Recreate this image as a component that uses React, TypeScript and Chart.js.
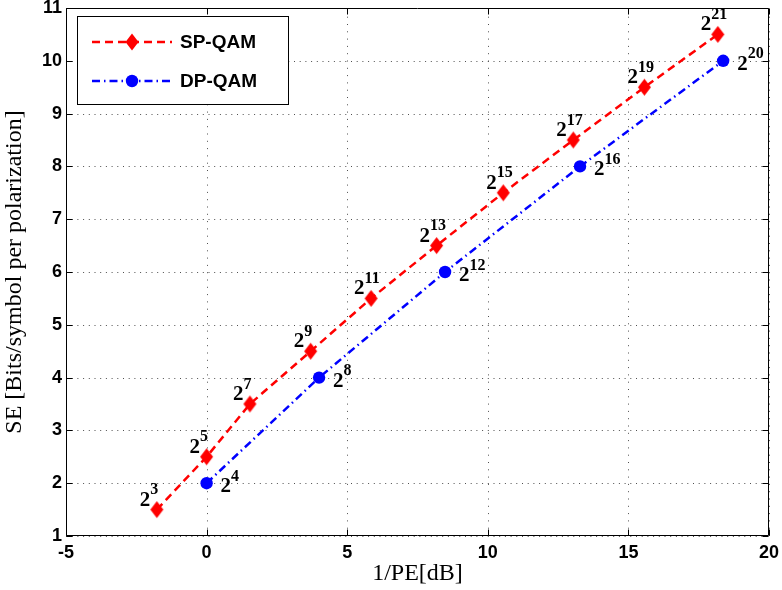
import React, { useEffect, useRef } from "react";
import { Chart, registerables } from "chart.js";

Chart.register(...registerables);

// ---- data ----
const spX = [-1.77, 0.0, 1.54, 3.7, 5.85, 8.18, 10.55, 13.04, 15.57, 18.18];
const spY = [1.5, 2.5, 3.5, 4.5, 5.5, 6.5, 7.5, 8.5, 9.5, 10.5];
const spExp = ["3", "5", "7", "9", "11", "13", "15", "17", "19", "21"];

const dpX = [0.0, 4.0, 8.48, 13.28, 18.37];
const dpY = [2, 4, 6, 8, 10];
const dpExp = ["4", "8", "12", "16", "20"];

const seriesNames = ["SP-QAM", "DP-QAM"];
const xTitle = "1/PE[dB]";
const yTitle = "SE [Bits/symbol per polarization]";
const xMin = -5, xMax = 20, xStep = 5;
const yMin = 1, yMax = 11, yStep = 1;

const RED = "#ff0000";
const BLUE = "#0000ff";
const SP_DASH = [8, 5];
const DP_DASH = [8, 4, 1.5, 4];
const SANS = '"Liberation Sans", Arial, Helvetica, sans-serif';
const SERIF = '"Liberation Serif", "Times New Roman", serif';

function makeDiamond(color: string, hw: number, hh: number) {
  const c = document.createElement("canvas");
  c.width = Math.ceil(hw * 2) + 2;
  c.height = Math.ceil(hh * 2) + 2;
  const g = c.getContext("2d")!;
  const cx = c.width / 2, cy = c.height / 2;
  g.fillStyle = color;
  g.beginPath();
  g.moveTo(cx, cy - hh);
  g.lineTo(cx + hw, cy);
  g.lineTo(cx, cy + hh);
  g.lineTo(cx - hw, cy);
  g.closePath();
  g.fill();
  return c;
}

const gridPlugin = {
  id: "dotGrid",
  beforeDatasetsDraw(chart: any) {
    const ctx = chart.ctx;
    const { left, right, top, bottom } = chart.chartArea;
    const xs = chart.scales.x;
    const ys = chart.scales.y;
    ctx.save();
    ctx.strokeStyle = "rgba(60,60,60,0.9)";
    ctx.lineWidth = 1;
    ctx.setLineDash([1, 6.3]);
    ctx.beginPath();
    xs.ticks.forEach((t: any) => {
      const p = Math.round(xs.getPixelForValue(t.value)) + 0.5;
      ctx.moveTo(p, bottom);
      ctx.lineTo(p, top);
    });
    ctx.stroke();
    ctx.setLineDash([1, 4.7]);
    ctx.beginPath();
    ys.ticks.forEach((t: any) => {
      const p = Math.round(ys.getPixelForValue(t.value)) + 0.5;
      ctx.moveTo(left, p);
      ctx.lineTo(right, p);
    });
    ctx.stroke();
    ctx.restore();
  },
};

const labelPlugin = {
  id: "pow2labels",
  afterDatasetsDraw(chart: any) {
    const ctx = chart.ctx;
    const sets = [
      { exp: spExp, dx: -17, dy: -4 },
      { exp: dpExp, dx: 14, dy: 9 },
    ];
    sets.forEach((s, di) => {
      const meta = chart.getDatasetMeta(di);
      meta.data.forEach((pt: any, i: number) => {
        ctx.save();
        ctx.fillStyle = "#000";
        ctx.textBaseline = "alphabetic";
        ctx.textAlign = "left";
        ctx.font = `bold 21px ${SERIF}`;
        const bx = pt.x + s.dx;
        const by = pt.y + s.dy;
        ctx.fillText("2", bx, by);
        const w = ctx.measureText("2").width;
        ctx.font = `bold 16px ${SERIF}`;
        ctx.fillText(s.exp[i], bx + w, by - 11.5);
        ctx.restore();
      });
    });
  },
};

const framePlugin = {
  id: "frame",
  afterDatasetsDraw(chart: any) {
    const ctx = chart.ctx;
    const { left, right, top, bottom } = chart.chartArea;
    const L = Math.round(left) + 0.5;
    const R = Math.round(right) - 0.5;
    const T = Math.round(top) + 0.5;
    const B = Math.round(bottom) - 0.5;
    ctx.save();
    ctx.strokeStyle = "#000";
    ctx.lineWidth = 1;
    ctx.setLineDash([]);
    ctx.beginPath();
    ctx.rect(L, T, R - L, B - T);
    ctx.stroke();
    const tl = 6;
    const xs = chart.scales.x;
    const ys = chart.scales.y;
    ctx.beginPath();
    xs.ticks.forEach((t: any) => {
      const p = Math.round(xs.getPixelForValue(t.value)) + 0.5;
      ctx.moveTo(p, B);
      ctx.lineTo(p, B - tl);
      ctx.moveTo(p, T);
      ctx.lineTo(p, T + tl);
    });
    ys.ticks.forEach((t: any) => {
      const p = Math.round(ys.getPixelForValue(t.value)) + 0.5;
      ctx.moveTo(L, p);
      ctx.lineTo(L + tl, p);
      ctx.moveTo(R, p);
      ctx.lineTo(R - tl, p);
    });
    ctx.stroke();
    ctx.restore();
  },
};

const legendPlugin = {
  id: "boxLegend",
  afterDraw(chart: any) {
    const ctx = chart.ctx;
    const bx = 77, by = 16, bw = 211, bh = 88;
    ctx.save();
    ctx.fillStyle = "#fff";
    ctx.fillRect(bx, by, bw, bh);
    ctx.strokeStyle = "#000";
    ctx.lineWidth = 1;
    ctx.setLineDash([]);
    ctx.strokeRect(bx + 0.5, by + 0.5, bw, bh);

    const rows = [
      { y: 42, color: RED, dash: SP_DASH, marker: "diamond", text: seriesNames[0] },
      { y: 81, color: BLUE, dash: DP_DASH, marker: "circle", text: seriesNames[1] },
    ];
    rows.forEach((r) => {
      ctx.strokeStyle = r.color;
      ctx.lineWidth = 2.5;
      ctx.setLineDash(r.dash);
      ctx.beginPath();
      ctx.moveTo(92, r.y);
      ctx.lineTo(172, r.y);
      ctx.stroke();
      ctx.setLineDash([]);
      ctx.fillStyle = r.color;
      ctx.beginPath();
      if (r.marker === "diamond") {
        ctx.moveTo(132, r.y - 8.5);
        ctx.lineTo(138.5, r.y);
        ctx.lineTo(132, r.y + 8.5);
        ctx.lineTo(125.5, r.y);
        ctx.closePath();
      } else {
        ctx.arc(132, r.y, 6.2, 0, Math.PI * 2);
      }
      ctx.fill();
      ctx.fillStyle = "#000";
      ctx.font = `bold 19px ${SANS}`;
      ctx.textBaseline = "middle";
      ctx.textAlign = "left";
      ctx.fillText(r.text, 180, r.y + 1);
    });
    ctx.restore();
  },
};

export default function App() {
  const ref = useRef<HTMLCanvasElement | null>(null);

  useEffect(() => {
    if (!ref.current) return;
    const diamond = makeDiamond(RED, 6.5, 8.5);
    const chart = new Chart(ref.current, {
      type: "line",
      data: {
        datasets: [
          {
            label: seriesNames[0],
            data: spX.map((x, i) => ({ x, y: spY[i] })),
            borderColor: RED,
            backgroundColor: RED,
            borderWidth: 2.5,
            borderDash: SP_DASH,
            pointStyle: diamond,
            pointRadius: 8,
            pointBorderWidth: 0,
            pointBackgroundColor: RED,
            tension: 0,
          },
          {
            label: seriesNames[1],
            data: dpX.map((x, i) => ({ x, y: dpY[i] })),
            borderColor: BLUE,
            backgroundColor: BLUE,
            borderWidth: 2.5,
            borderDash: DP_DASH,
            pointStyle: "circle",
            pointRadius: 6.2,
            pointBorderWidth: 0,
            pointBackgroundColor: BLUE,
            tension: 0,
          },
        ],
      },
      options: {
        animation: false,
        responsive: false,
        devicePixelRatio: 1,
        layout: { padding: { left: 0, right: 13, top: 7, bottom: 0 } },
        plugins: {
          legend: { display: false },
          tooltip: { enabled: false },
        },
        scales: {
          x: {
            type: "linear",
            min: xMin,
            max: xMax,
            ticks: {
              stepSize: xStep,
              color: "#000",
              padding: 6,
              maxRotation: 0,
              font: { family: SANS, size: 18, weight: "bold" },
            },
            grid: { display: false, drawTicks: false },
            border: { display: false },
            title: {
              display: true,
              text: xTitle,
              color: "#000",
              font: { family: SERIF, size: 24, weight: "normal" },
              padding: { top: 0, bottom: 2 },
            },
            afterFit(scale: any) {
              scale.height = 54;
              scale.paddingLeft = 0;
              scale.paddingRight = 0;
            },
          },
          y: {
            type: "linear",
            min: yMin,
            max: yMax,
            ticks: {
              stepSize: yStep,
              color: "#000",
              padding: 4,
              font: { family: SANS, size: 18, weight: "bold" },
            },
            grid: { display: false, drawTicks: false },
            border: { display: false },
            title: {
              display: true,
              text: yTitle,
              color: "#000",
              font: { family: SERIF, size: 24, weight: "normal" },
              padding: { top: 0, bottom: 0 },
            },
            afterFit(scale: any) {
              scale.width = 66;
              scale.paddingTop = 0;
              scale.paddingBottom = 0;
            },
          },
        },
      },
      plugins: [gridPlugin, framePlugin, labelPlugin, legendPlugin],
    } as any);
    return () => chart.destroy();
  }, []);

  return (
    <div style={{ position: "absolute", left: 0, top: 0, width: 782, height: 590, background: "#fff" }}>
      <canvas ref={ref} width={782} height={590} style={{ width: 782, height: 590, display: "block" }} />
    </div>
  );
}
